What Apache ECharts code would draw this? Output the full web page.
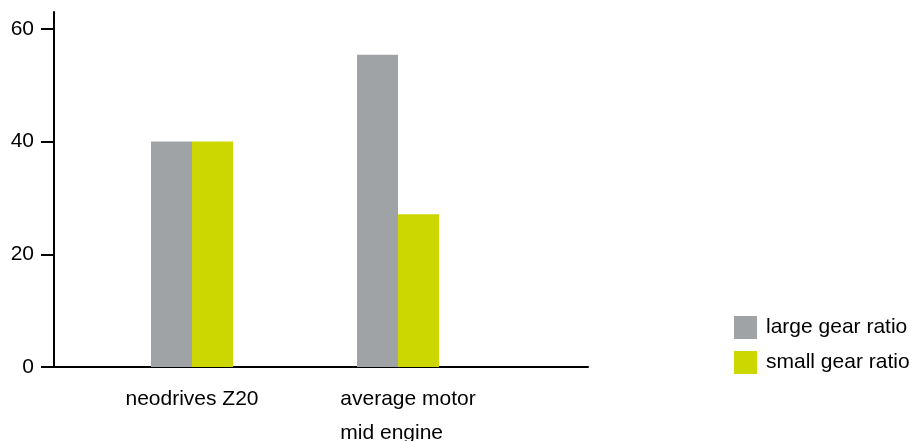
<!DOCTYPE html>
<html>
<head>
<meta charset="utf-8">
<script src="https://cdn.jsdelivr.net/npm/echarts@6/dist/echarts.min.js"></script>
<style>
html,body{margin:0;padding:0;background:#fff;}
#c{width:913px;height:441px;}
</style>
</head>
<body>
<div id="c"></div>
<script>
const categories = ['neodrives Z20', 'average motor\nmid engine'];
const largeGear = [40, 55.4];
const smallGear = [40, 27.1];
const seriesNames = ['large gear ratio', 'small gear ratio'];
const yTicks = [0, 20, 40, 60];

const FONT = 'Liberation Sans, Arial, sans-serif';
const chart = echarts.init(document.getElementById('c'), null, {renderer: 'canvas'});
chart.setOption({
  animation: false,
  backgroundColor: '#ffffff',
  textStyle: {fontFamily: FONT},
  legend: {
    orient: 'vertical',
    left: 734,
    top: 316,
    padding: 0,
    itemWidth: 23,
    itemHeight: 23,
    itemGap: 12,
    icon: 'rect',
    data: seriesNames,
    textStyle: {fontFamily: FONT, fontSize: 21, color: '#000', padding: [0, 0, 0, 4]}
  },
  grid: [
    {left: 89, width: 412, top: 12, bottom: 74, containLabel: false, outerBoundsMode: 'none'},
    {left: 54, width: 534, top: 12, bottom: 74, containLabel: false, outerBoundsMode: 'none'}
  ],
  xAxis: [
    {
      type: 'category', gridIndex: 0, data: categories,
      axisLine: {show: false}, axisTick: {show: false},
      axisLabel: {
        interval: 0, margin: 15, verticalAlign: 'top',
        formatter: function (v, i) {
          const st = i === 1 ? 'b' : 'a';
          return v.split('\n').map(s => '{' + st + '|' + s + '}').join('\n');
        },
        rich: {
          a: {fontFamily: FONT, fontSize: 21, color: '#000', lineHeight: 34, align: 'left'},
          b: {fontFamily: FONT, fontSize: 21, color: '#000', lineHeight: 34, align: 'left', padding: [0, 0, 0, 20]}
        }
      }
    },
    {
      type: 'value', gridIndex: 1, min: 0, max: 1,
      axisLine: {show: true, lineStyle: {color: '#000', width: 2}},
      axisTick: {show: false}, axisLabel: {show: false}, splitLine: {show: false}
    }
  ],
  yAxis: [
    {
      type: 'value', gridIndex: 0, min: 0, max: 63, interval: 20, offset: 35,
      axisLine: {show: true, lineStyle: {color: '#000', width: 2}},
      axisTick: {show: true, length: 13, customValues: yTicks, lineStyle: {color: '#000', width: 2}},
      axisLabel: {margin: 20, customValues: yTicks, fontFamily: FONT, fontSize: 21, color: '#000', padding: [0, 0, 3, 0]},
      splitLine: {show: false}
    },
    {
      type: 'value', gridIndex: 1, min: 0, max: 63, show: false
    }
  ],
  series: [
    {
      name: seriesNames[0], type: 'bar', xAxisIndex: 0, yAxisIndex: 0,
      data: largeGear, barWidth: 41, barGap: '0%',
      itemStyle: {color: '#a0a3a6'}
    },
    {
      name: seriesNames[1], type: 'bar', xAxisIndex: 0, yAxisIndex: 0,
      data: smallGear, barWidth: 41, barGap: '0%',
      itemStyle: {color: '#ccd600'}
    }
  ]
});
</script>
</body>
</html>
